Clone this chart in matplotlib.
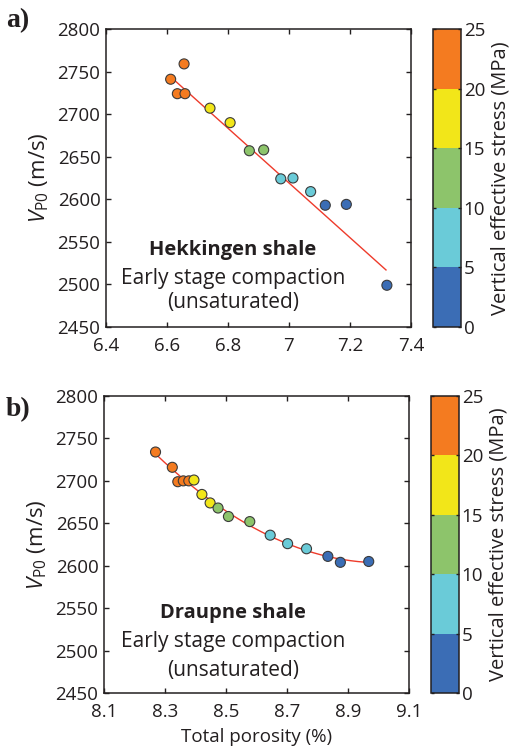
import numpy as np
import matplotlib
matplotlib.use("Agg")
import matplotlib.pyplot as plt
from matplotlib.colors import ListedColormap, BoundaryNorm

# ---------------- data ----------------
# Panel a: Hekkingen shale
por_a = [6.612, 6.656, 6.634, 6.659, 6.741, 6.807, 6.870, 6.917, 6.973, 7.013, 7.071, 7.119, 7.188, 7.321]
vp_a = [2741, 2759, 2724, 2724, 2707, 2690, 2657, 2658, 2624, 2625, 2609, 2593, 2594, 2499]
stress_a = [24, 23, 22, 21, 18, 16, 13, 11, 9, 8, 6, 4, 3, 1]
fit_a_x = [6.627, 7.318]
fit_a_y = [2739, 2517]

# Panel b: Draupne shale
por_b = [8.269, 8.324, 8.342, 8.360, 8.378, 8.395, 8.421, 8.448, 8.474, 8.508, 8.578,
         8.645, 8.702, 8.764, 8.834, 8.875, 8.968]
vp_b = [2734, 2716, 2699, 2700, 2700, 2701, 2684, 2674, 2668, 2658, 2652,
        2636, 2626, 2620, 2611, 2604, 2605]
stress_b = [24, 23, 22, 21, 20.5, 19, 17, 16, 14, 12, 11, 9, 7, 6, 4, 3, 1]

stress_bounds = [0, 5, 10, 15, 20, 25]
bin_colors = ["#3B6DB5", "#6ACBD8", "#8DC46B", "#F2E619", "#F47B20"]

x_ticks_a = [6.4, 6.6, 6.8, 7.0, 7.2, 7.4]
x_ticklabels_a = ["6.4", "6.6", "6.8", "7", "7.2", "7.4"]
x_ticks_b = [8.1, 8.3, 8.5, 8.7, 8.9, 9.1]
x_ticklabels_b = ["8.1", "8.3", "8.5", "8.7", "8.9", "9.1"]
y_ticks = [2450, 2500, 2550, 2600, 2650, 2700, 2750, 2800]

# ---------------- style ----------------
FONT = "Open Sans"
plt.rcParams["font.family"] = [FONT, "DejaVu Sans"]
plt.rcParams["mathtext.fontset"] = "custom"
plt.rcParams["mathtext.rm"] = FONT
plt.rcParams["mathtext.it"] = FONT + ":italic"
plt.rcParams["axes.linewidth"] = 1.1
spine_col = "#231f20"
text_col = "#231f20"

cmap = ListedColormap(bin_colors)
norm = BoundaryNorm(stress_bounds, cmap.N)

fig = plt.figure(figsize=(5.14, 7.51), dpi=100)

panels = [
    dict(pos=[0.2062, 0.5646, 0.5934, 0.3968], cpos=[0.8424, 0.5646, 0.0545, 0.3968],
         x=por_a, y=vp_a, s=stress_a, xlim=(6.4, 7.4), xt=x_ticks_a, xtl=x_ticklabels_a,
         title="Hekkingen shale", tx=0.416, ty=(0.258, 0.164, 0.082), label="a)", ly=0.972,
         xlabel=False),
    dict(pos=[0.2023, 0.0772, 0.5934, 0.3955], cpos=[0.8385, 0.0772, 0.0545, 0.3955],
         x=por_b, y=vp_b, s=stress_b, xlim=(8.1, 9.1), xt=x_ticks_b, xtl=x_ticklabels_b,
         title="Draupne shale", tx=0.422, ty=(0.269, 0.172, 0.077), label="b)", ly=0.455,
         xlabel=True),
]

for i, p in enumerate(panels):
    ax = fig.add_axes(p["pos"])
    if i == 0:
        ax.plot(fit_a_x, fit_a_y, color="#EE3B2B", lw=1.0, zorder=2)
    else:
        coef = np.polyfit(por_b, vp_b, 2)
        xx = np.linspace(min(por_b), max(por_b), 200)
        ax.plot(xx, np.polyval(coef, xx), color="#EE3B2B", lw=1.0, zorder=2)
    sc = ax.scatter(p["x"], p["y"], c=p["s"], cmap=cmap, norm=norm, s=52,
                    edgecolors="#3a3a3a", linewidths=0.8, zorder=3)
    ax.set_xlim(*p["xlim"])
    ax.set_ylim(2450, 2800)
    ax.set_xticks(p["xt"])
    ax.set_xticklabels(p["xtl"])
    ax.set_yticks(y_ticks)
    ax.tick_params(direction="in", length=3.5, width=1.0, top=True, right=True,
                   labelsize=13.5, colors=text_col)
    ax.tick_params(axis="x", pad=7)
    ax.tick_params(axis="y", pad=4)
    for sp in ax.spines.values():
        sp.set_color(spine_col)
    ax.set_ylabel(r"$\mathit{V}_{\mathrm{P0}}$ (m/s)", fontsize=16, color=text_col, labelpad=5)
    if p["xlabel"]:
        ax.set_xlabel("Total porosity (%)", fontsize=13.5, color=text_col, labelpad=5)
    ax.text(p["tx"], p["ty"][0], p["title"], transform=ax.transAxes, ha="center",
            va="center", fontsize=14.5, fontweight="bold", color=text_col)
    ax.text(p["tx"], p["ty"][1], "Early stage compaction", transform=ax.transAxes,
            ha="center", va="center", fontsize=15, color=text_col)
    ax.text(p["tx"], p["ty"][2], "(unsaturated)", transform=ax.transAxes,
            ha="center", va="center", fontsize=15, color=text_col)
    fig.text(0.012, p["ly"], p["label"], fontsize=20, fontweight="bold",
             family="Liberation Serif", va="center", ha="left", color=text_col)

    cax = fig.add_axes(p["cpos"])
    cb = fig.colorbar(sc, cax=cax, ticks=stress_bounds)
    cb.outline.set_linewidth(1.1)
    cb.outline.set_edgecolor(spine_col)
    cax.tick_params(direction="in", length=2.5, width=1.0, left=True, right=True,
                    labelsize=13.5, colors=text_col, pad=2)
    cb.set_label("Vertical effective stress (MPa)", fontsize=14.5, color=text_col, labelpad=4)

fig.savefig("out.png", dpi=100)
